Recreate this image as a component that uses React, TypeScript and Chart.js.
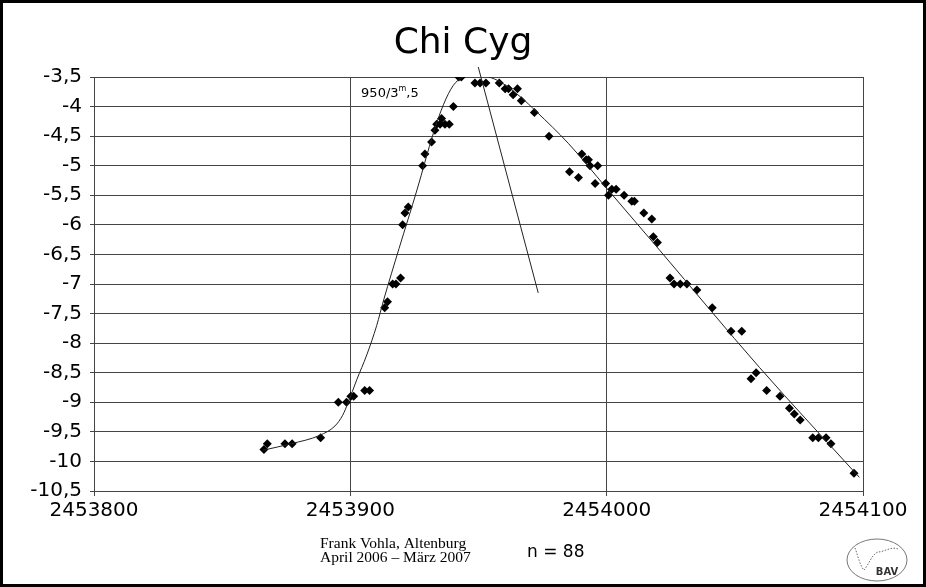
import React, { useEffect, useRef } from 'react';
import { Chart, registerables } from 'chart.js';

Chart.register(...registerables);

// Observations (Julian Date, magnitude shown negative)
const obsJD = [
  2453866.3, 2453867.6, 2453874.5, 2453877.3, 2453888.4, 2453895.3, 2453898.5, 2453900.2, 2453901.3,
  2453905.6, 2453907.5, 2453913.4, 2453914.5, 2453916.5, 2453917.8, 2453919.6, 2453920.4, 2453921.3,
  2453922.6, 2453928.2, 2453929.1, 2453931.7, 2453933.0, 2453933.7, 2453935.0, 2453935.6, 2453936.9,
  2453938.6, 2453940.2, 2453942.3, 2453943.3, 2453948.6, 2453950.6, 2453952.9, 2453958.1, 2453960.4,
  2453961.7, 2453963.5, 2453965.2, 2453966.7, 2453971.8, 2453977.5, 2453985.5, 2453989.0, 2453990.3,
  2453992.0, 2453992.9, 2453993.5, 2453995.5, 2453996.5, 2453999.6, 2454000.7, 2454002.0, 2454003.7,
  2454006.8, 2454009.8, 2454010.8, 2454014.5, 2454017.6, 2454018.2, 2454019.8, 2454024.7, 2454026.3,
  2454028.7, 2454031.3, 2454035.2, 2454041.2, 2454048.5, 2454052.7, 2454056.3, 2454058.3, 2454062.4,
  2454067.6, 2454071.3, 2454073.2, 2454075.5, 2454080.4, 2454082.6, 2454085.6, 2454087.5, 2454096.5,
];
const obsMag = [
  -9.8, -9.7, -9.7, -9.7, -9.6, -9.0, -9.0, -8.9, -8.9,
  -8.8, -8.8, -7.4, -7.3, -7.0, -7.0, -6.9, -6.0, -5.8,
  -5.7, -5.0, -4.8, -4.6, -4.4, -4.3, -4.3, -4.2, -4.3,
  -4.3, -4.0, -3.5, -3.5, -3.6, -3.6, -3.6, -3.6, -3.7,
  -3.7, -3.8, -3.7, -3.9, -4.1, -4.5, -5.1, -5.2, -4.8,
  -4.9, -4.9, -5.0, -5.3, -5.0, -5.3, -5.5, -5.4, -5.4,
  -5.5, -5.6, -5.6, -5.8, -5.9, -6.2, -6.3, -6.9, -7.0,
  -7.0, -7.0, -7.1, -7.4, -7.8, -7.8, -8.6, -8.5, -8.8,
  -8.9, -9.1, -9.2, -9.3, -9.6, -9.6, -9.6, -9.7, -10.2,
];

// Fitted light curve
const fitJD = [
  2453866, 2453877, 2453888, 2453894, 2453897, 2453899, 2453902.5, 2453906.4, 2453910.3, 2453913,
  2453919, 2453926, 2453932.4, 2453936.3, 2453940.2, 2453944, 2453949, 2453954, 2453958.4, 2453966.2,
  2453972.7, 2453985, 2454000, 2454020.7, 2454059.6, 2454098.6,
];
const fitMag = [
  -9.81, -9.7, -9.56, -9.4, -9.22, -9.02, -8.62, -8.2, -7.7, -7.27,
  -6.4, -5.41, -4.45, -3.97, -3.64, -3.5, -3.46, -3.5, -3.58, -3.83,
  -4.09, -4.62, -5.38, -6.43, -8.41, -10.27,
];

// Steep line
const steepJD = [2453949.9, 2453973.3];
const steepMag = [-3.33, -7.15];

const xTicks = [2453800, 2453900, 2454000, 2454100];
const yMin = -10.5;
const yMax = -3.5;
const yStep = 0.5;

const titleText = 'Chi Cyg';
const periodText = ['950/3', 'm', ',5'];
const periodAt = [2453904.2, -3.84];
const creditLines = ['Frank Vohla, Altenburg', 'April 2006 \u2013 M\u00e4rz 2007'];
const countText = 'n = 88';
const logoText = 'BAV';

const FONT = 'DejaVu Sans';

const decorPlugin = {
  id: 'decor',
  afterDraw(chart: any) {
    const ctx = chart.ctx as CanvasRenderingContext2D;
    const W = chart.width;
    const H = chart.height;
    ctx.save();
    // outer frame
    ctx.strokeStyle = '#000';
    ctx.lineWidth = 3;
    ctx.strokeRect(1.5, 1.5, W - 3, H - 3);

    // title
    ctx.fillStyle = '#000';
    ctx.font = `36px "${FONT}"`;
    ctx.textAlign = 'center';
    ctx.textBaseline = 'alphabetic';
    ctx.fillText(titleText, W / 2, 53);

    // period annotation
    const xs = chart.scales.x;
    const ys = chart.scales.y;
    let px = xs.getPixelForValue(periodAt[0]);
    const py = ys.getPixelForValue(periodAt[1]);
    ctx.textAlign = 'left';
    ctx.font = `13px "${FONT}"`;
    ctx.fillText(periodText[0], px, py);
    px += ctx.measureText(periodText[0]).width;
    ctx.font = `8px "${FONT}"`;
    ctx.fillText(periodText[1], px, py - 6);
    px += ctx.measureText(periodText[1]).width;
    ctx.font = `13px "${FONT}"`;
    ctx.fillText(periodText[2], px, py);

    // credits
    ctx.font = `15.5px "Liberation Serif"`;
    ctx.fillText(creditLines[0], 320, 548);
    ctx.fillText(creditLines[1], 320, 562);

    // count
    ctx.font = `17px "${FONT}"`;
    ctx.fillText(countText, 527, 557);

    // BAV logo
    ctx.strokeStyle = '#777';
    ctx.lineWidth = 1;
    ctx.beginPath();
    ctx.ellipse(877, 560, 30, 21, 0, 0, Math.PI * 2);
    ctx.stroke();
    ctx.setLineDash([1.5, 1.5]);
    ctx.strokeStyle = '#666';
    ctx.beginPath();
    ctx.moveTo(855, 548);
    ctx.bezierCurveTo(858, 556, 860, 566, 864, 570);
    ctx.bezierCurveTo(868, 566, 872, 554, 878, 552);
    ctx.bezierCurveTo(884, 552, 892, 546, 898, 549);
    ctx.stroke();
    ctx.setLineDash([]);
    ctx.fillStyle = '#333';
    ctx.font = `bold 10px "${FONT}"`;
    ctx.textAlign = 'center';
    ctx.fillText(logoText, 887, 575);
    ctx.restore();
  },
};

export default function App() {
  const ref = useRef<HTMLCanvasElement | null>(null);

  useEffect(() => {
    if (!ref.current) return;
    const obs = obsJD.map((x, i) => ({ x, y: obsMag[i] }));
    const fit = fitJD.map((x, i) => ({ x, y: fitMag[i] }));
    const steep = steepJD.map((x, i) => ({ x, y: steepMag[i] }));
    const tickFont = { family: FONT, size: 20 };
    const chart = new Chart(ref.current, {
      type: 'scatter',
      data: {
        datasets: [
          {
            data: fit,
            showLine: true,
            borderColor: '#222',
            borderWidth: 1,
            pointRadius: 0,
            cubicInterpolationMode: 'monotone',
          } as any,
          {
            data: steep,
            showLine: true,
            borderColor: '#222',
            borderWidth: 1,
            pointRadius: 0,
            clip: false,
          } as any,
          {
            data: obs,
            showLine: false,
            pointStyle: 'rectRot',
            pointRadius: 4.5,
            pointBackgroundColor: '#000',
            pointBorderColor: '#000',
            pointBorderWidth: 0,
          } as any,
        ],
      },
      options: {
        animation: false,
        responsive: false,
        maintainAspectRatio: false,
        layout: { padding: { left: 0, right: 63, top: 77, bottom: 56 } },
        plugins: {
          legend: { display: false },
          title: { display: false },
          tooltip: { enabled: false },
        },
        scales: {
          x: {
            type: 'linear',
            min: xTicks[0],
            max: xTicks[xTicks.length - 1],
            afterBuildTicks: (s: any) => {
              s.ticks = xTicks.map((v) => ({ value: v }));
            },
            afterFit: (s: any) => {
              s.height = 40;
            },
            ticks: {
              callback: (v: any) => String(v),
              font: tickFont,
              color: '#000',
              padding: 3,
              maxRotation: 0,
              autoSkip: false,
            },
            grid: { color: '#444', lineWidth: 1, tickLength: 5 },
            border: { color: '#444', width: 1 },
          },
          y: {
            type: 'linear',
            min: yMin,
            max: yMax,
            afterFit: (s: any) => {
              s.width = 94;
            },
            ticks: {
              stepSize: yStep,
              callback: (v: any) => String(Math.round(v * 10) / 10).replace('.', ','),
              font: tickFont,
              color: '#000',
              padding: 8,
              autoSkip: false,
            },
            grid: { color: '#444', lineWidth: 1, tickLength: 4 },
            border: { color: '#444', width: 1 },
          },
        },
      } as any,
      plugins: [decorPlugin],
    });
    return () => chart.destroy();
  }, []);

  return (
    <div style={{ position: 'fixed', left: 0, top: 0, width: 926, height: 587, background: '#fff' }}>
      <canvas ref={ref} width={926} height={587} style={{ width: 926, height: 587, display: 'block' }} />
    </div>
  );
}
